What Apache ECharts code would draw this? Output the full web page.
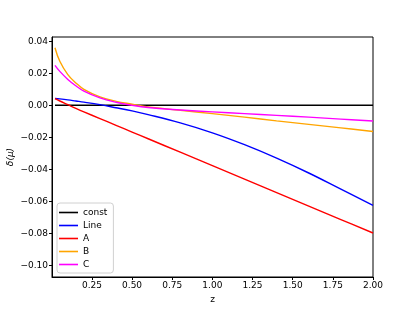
<!DOCTYPE html>
<html><head><meta charset="utf-8">
<script src="https://cdn.jsdelivr.net/npm/echarts@6/dist/echarts.min.js"></script>
<style>html,body{margin:0;padding:0;background:#fff}#c{width:415px;height:311px}</style>
</head><body><div id="c"></div>
<script>
const z = [0.02, 0.05, 0.1, 0.15, 0.2, 0.3, 0.4, 0.5, 0.6, 0.8, 1.0, 1.2, 1.4, 1.6, 1.8, 2.0];
const constVals = [0, 0, 0, 0, 0, 0, 0, 0, 0, 0, 0, 0, 0, 0, 0, 0];
const lineVals = [0.0043, 0.0040, 0.0034, 0.0027, 0.0020, 0.0004, -0.0015, -0.0035, -0.0058, -0.0110, -0.0172, -0.0246, -0.0330, -0.0423, -0.0524, -0.0625];
const aVals = [0.0042, 0.0027, 0.0004, -0.0019, -0.0041, -0.0083, -0.0125, -0.0167, -0.0209, -0.0293, -0.0377, -0.0461, -0.0546, -0.0630, -0.0714, -0.0798];
const bVals = [0.0360, 0.0275, 0.0192, 0.0140, 0.0100, 0.0053, 0.0025, 0.0007, -0.0010, -0.0031, -0.0052, -0.0074, -0.0097, -0.0119, -0.0141, -0.0164];
const cVals = [0.0250, 0.0212, 0.0162, 0.0122, 0.0088, 0.0046, 0.0019, 0.0000, -0.0014, -0.0029, -0.0041, -0.0052, -0.0063, -0.0074, -0.0086, -0.0098];
const xTicks = [0.25, 0.5, 0.75, 1.0, 1.25, 1.5, 1.75, 2.0];
const yTicks = [-0.10, -0.08, -0.06, -0.04, -0.02, 0.00, 0.02, 0.04];

const names = ['const', 'Line', 'A', 'B', 'C'];
const colors = ['#000000', '#0000ff', '#ff0000', '#ffa500', '#ff00ff'];
const vals = [constVals, lineVals, aVals, bVals, cVals];
const font = 'DejaVu Sans';

const chart = echarts.init(document.getElementById('c'), null, {renderer: 'canvas'});
chart.setOption({
  animation: false,
  backgroundColor: '#fff',
  grid: {left: 52, top: 37, width: 321, height: 240, show: true, borderColor: '#000', borderWidth: 1,
    backgroundColor: 'transparent', containLabel: false, outerBoundsMode: 'none'},
  xAxis: {
    type: 'value', min: 0.0014, max: 2.0,
    name: 'z', nameLocation: 'middle', nameGap: 16,
    nameTextStyle: {fontFamily: font, fontSize: 9, color: '#000'},
    axisLine: {show: true, onZero: false, lineStyle: {color: '#000', width: 1}},
    axisTick: {show: true, length: 3, lineStyle: {color: '#000'}, customValues: xTicks},
    axisLabel: {fontFamily: font, fontSize: 9, color: '#000', margin: 4, customValues: xTicks,
      formatter: v => v.toFixed(2)},
    splitLine: {show: false}
  },
  yAxis: {
    type: 'value', min: -0.1073, max: 0.0427,
    name: 'δ(μ)', nameLocation: 'middle', nameGap: 37, nameRotate: 90, nameMoveOverlap: false,
    nameTextStyle: {fontFamily: font, fontSize: 9, color: '#000', fontStyle: 'italic'},
    axisLine: {show: true, onZero: false, lineStyle: {color: '#000', width: 1}},
    axisTick: {show: true, length: 3, lineStyle: {color: '#000'}, customValues: yTicks},
    axisLabel: {fontFamily: font, fontSize: 9, color: '#000', margin: 4, customValues: yTicks,
      formatter: v => (v < 0 ? '\u2212' + Math.abs(v).toFixed(2) : v.toFixed(2))},
    splitLine: {show: false}
  },
  legend: {
    orient: 'vertical', left: 57, top: 203,
    data: names.map(n => ({name: n, icon: 'rect'})),
    itemWidth: 19, itemHeight: 1.6, itemGap: 2,
    padding: [4, 6, 3, 2],
    borderColor: '#d0d0d0', borderWidth: 1, borderRadius: 3,
    backgroundColor: 'rgba(255,255,255,0.8)',
    textStyle: {fontFamily: font, fontSize: 9, color: '#000', lineHeight: 11}
  },
  series: names.map((n, i) => ({
    name: n, type: 'line',
    data: z.map((x, j) => [x, vals[i][j]]),
    smooth: 0.4,
    symbol: 'none', showSymbol: false,
    lineStyle: {color: colors[i], width: 1.4},
    itemStyle: {color: colors[i]},
    z: 2 + i
  }))
});
</script></body></html>
